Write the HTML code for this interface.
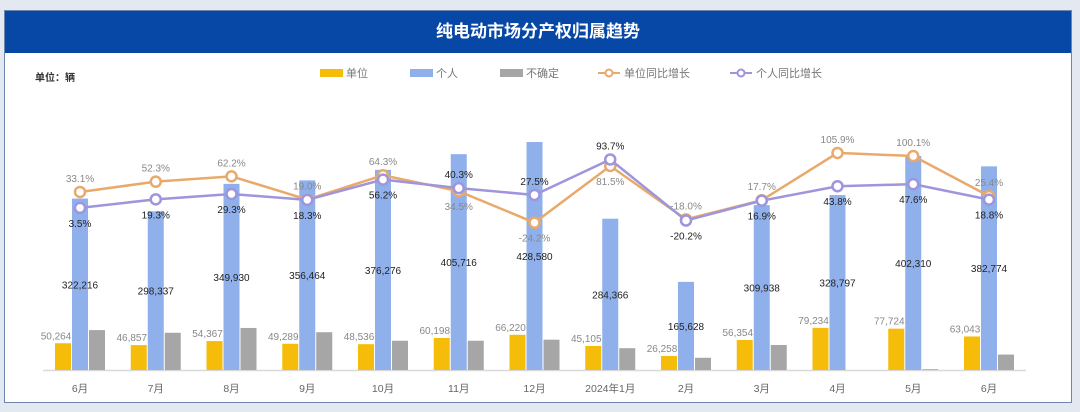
<!DOCTYPE html>
<html><head><meta charset="utf-8"><style>
body{margin:0;width:1080px;height:412px;background:#e4e8f1;overflow:hidden;font-family:"Liberation Sans","Noto Sans CJK SC",sans-serif}
#panel{position:absolute;left:4px;top:10px;width:1068px;height:393px;background:#fff;border:1px solid #6d86ad;box-sizing:border-box}
#hdr{position:absolute;left:0;top:0;width:100%;height:42px;background:#0747a6;color:#fff;font-size:17px;font-weight:bold;text-align:center;line-height:42px}
svg{position:absolute;left:0;top:0}
</style></head><body>
<div id="panel"><div id="hdr">纯电动市场分产权归属趋势</div></div>
<svg id="c" width="1080" height="412"></svg>
<script>
const categories=["6月","7月","8月","9月","10月","11月","12月","2024年1月","2月","3月","4月","5月","6月"];
const unitVals=[50264,46857,54367,49289,48536,60198,66220,45105,26258,56354,79234,77724,63043];
const personVals=[322216,298337,349930,356464,376276,405716,428580,284366,165628,309938,328797,402310,382774];
const unknownVals=[75000,70000,79000,71000,55000,55000,57000,41000,23000,47000,0,1500,29000];
const unitYoY=[33.1,52.3,62.2,19.0,64.3,34.5,-24.2,81.5,-18.0,17.7,105.9,100.1,25.4];
const personYoY=[3.5,19.3,29.3,18.3,56.2,40.3,27.5,93.7,-20.2,16.9,43.8,47.6,18.8];
const unitLblPos=["a","a","a","a","a","b","b","b","a","a","a","a","a"];
const personLblPos=["b","b","b","b","b","a","a","a","b","b","b","b","b"];
const NS="http://www.w3.org/2000/svg",svg=document.getElementById('c');
function el(t,a,p){const e=document.createElementNS(NS,t);for(const k in a)e.setAttribute(k,a[k]);(p||svg).appendChild(e);return e;}
const base=370;
const xC=i=>80+i*75.75;
const yBar=v=>base-v*228/428580;
const yPct=v=>209.7-v*0.536;
const fmt=v=>v.toLocaleString('en-US');
// unit label
let t=el('text',{x:35,y:81,'font-size':10,'font-weight':'bold',fill:'#333'});t.textContent='单位：辆';


// legend
const leg=[["单位","#f5bd0a","r",320],["个人","#8fb0ea","r",410],["不确定","#a6a6a6","r",500],["单位同比增长","#e9a96a","l",598],["个人同比增长","#9e95dc","l",730]];
leg.forEach(L=>{const g=el('g',{});


if(L[2]=="r")el('rect',{x:L[3],y:69,width:23,height:8,fill:L[1]},g);
else{el('line',{x1:L[3],y1:73,x2:L[3]+22,y2:73,stroke:L[1],'stroke-width':2},g);el('circle',{cx:L[3]+11,cy:73,r:3.5,fill:'#fff',stroke:L[1],'stroke-width':2},g);}
const tx=el('text',{x:L[3]+26,y:77,'font-size':11,fill:'#777'},g);tx.textContent=L[0];});
// axis
const ax=el('line',{x1:43,y1:base+0.5,x2:1026,y2:base+0.5,stroke:'#d9d9d9','stroke-width':1.5});


const bw=16;
categories.forEach((c,i)=>{const x=xC(i);
const series=[[unitVals[i],'#f5bd0a',x-bw*1.5-1,'bar-unit'],[personVals[i],'#8fb0ea',x-bw/2,'bar-person'],[unknownVals[i],'#a6a6a6',x+bw/2+1,'bar-unknown']];
series.forEach(s=>{const y=yBar(s[0]);const r=el('rect',{x:s[2],y:y,width:bw,height:base-y,fill:s[1]});

});
let tl=el('text',{x:x,y:392,'font-size':10.5,fill:'#666','text-anchor':'middle'});tl.textContent=c;


let ul=el('text',{x:x-24,y:yBar(unitVals[i])-4,'font-size':10,fill:'#888','text-anchor':'middle'});ul.textContent=fmt(unitVals[i]);


let pl=el('text',{x:x,y:(yBar(personVals[i])+base)/2+4,'font-size':10,fill:'#222','text-anchor':'middle'});pl.textContent=fmt(personVals[i]);


});
function line(vals,col,name,pos,tcol){
const pts=vals.map((v,i)=>xC(i)+','+yPct(v)).join(' ');
const pl=el('polyline',{points:pts,fill:'none',stroke:col,'stroke-width':2.5});


vals.forEach((v,i)=>{const c=el('circle',{cx:xC(i),cy:yPct(v),r:5,fill:'#fff',stroke:col,'stroke-width':2.5});


const ty=pos[i]=="a"?yPct(v)-10:yPct(v)+19;
const t=el('text',{x:xC(i),y:ty,'font-size':10,fill:tcol,'text-anchor':'middle'});t.textContent=v.toFixed(1)+'%';

});}
line(unitYoY,'#e9a96a','unit-yoy',unitLblPos,'#888');
line(personYoY,'#9e95dc','person-yoy',personLblPos,'#222');
</script></body></html>
